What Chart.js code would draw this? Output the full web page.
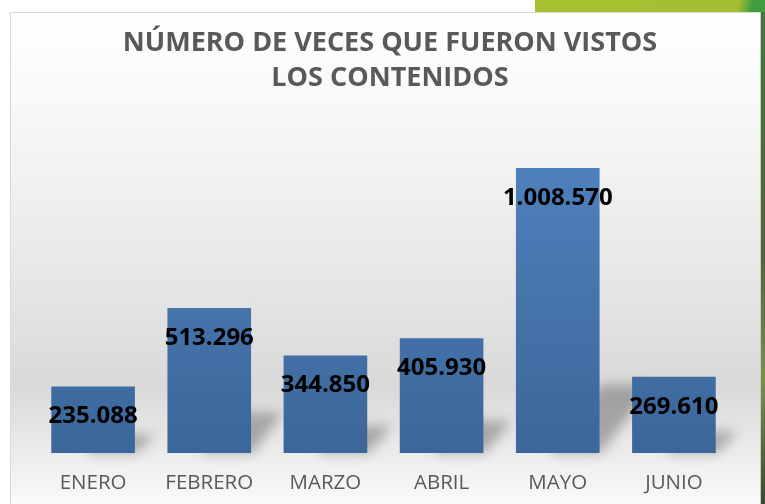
<!DOCTYPE html>
<html>
<head>
  <meta charset="UTF-8">
  <title>Número de veces que fueron vistos los contenidos</title>
  <script src="https://cdn.jsdelivr.net/npm/chart.js"></script>
  <style>
    body {
      margin: 0;
      width: 765px;
      height: 504px;
      overflow: hidden;
      background: #fff;
      position: relative;
      font-family: "Open Sans", Arial, sans-serif;
    }

    #green-top {
      position: absolute;
      left: 535px;
      top: 0;
      width: 230px;
      height: 12px;
      background: linear-gradient(100deg, #a6c12f 0%, #a3bf30 88%, #3f9d3f 94%);
    }

    #green-side {
      position: absolute;
      left: 761px;
      top: 12px;
      width: 4px;
      height: 492px;
      background: linear-gradient(180deg, #3f7a3a 0%, #56633a 50%, #7d8f4a 75%, #3b4a2e 100%);
    }

    #chart-box {
      position: absolute;
      left: 10px;
      top: 12px;
      width: 749px;
      height: 492px;
      border-left: 1px solid #d9d9d9;
      border-top: 1px solid #d9d9d9;
      border-right: 1px solid #c8c8c8;
      background: linear-gradient(180deg, #ffffff 0%, #f7f7f7 22%, #e6e6e6 55%, #d9d9d9 76%, #ececec 90%, #fafafa 100%);
    }

    canvas {
      display: block;
    }
  </style>
</head>
<body>
  <div id="green-top"></div>
  <div id="green-side"></div>
  <div id="chart-box">
    <canvas id="chart" width="749" height="491"></canvas>
  </div>

  <script>
    const meses = ["ENERO", "FEBRERO", "MARZO", "ABRIL", "MAYO", "JUNIO"];
    const visitas = [235088, 513296, 344850, 405930, 1008570, 269610];
    const titulo = ["NÚMERO DE VECES QUE FUERON VISTOS", "LOS CONTENIDOS"];

    // 1008570 -> "1.008.570"
    function conPuntos(n) {
      return String(n).replace(/\B(?=(\d{3})+(?!\d))/g, ".");
    }

    // title drawn by hand: in the original it sits a bit right of the plot centre
    const tituloPlugin = {
      id: "tituloPlugin",
      afterDraw(chart) {
        const ctx = chart.ctx;
        ctx.save();
        ctx.font = "bold 27px 'Open Sans'";
        ctx.fillStyle = "#595959";
        ctx.textAlign = "center";
        ctx.textBaseline = "middle";
        titulo.forEach((linea, i) => {
          ctx.fillText(linea, 379, 30 + i * 35);
        });
        ctx.restore();
      }
    };

    // blurred floor shadow behind each bar, like the Excel preset
    const sombraBarras = {
      id: "sombraBarras",
      beforeDatasetsDraw(chart) {
        const ctx = chart.ctx;
        const meta = chart.getDatasetMeta(0);
        ctx.save();
        ctx.filter = "blur(6px)";
        ctx.fillStyle = "rgba(0, 0, 0, 0.27)";
        meta.data.forEach(bar => {
          const w = bar.width;
          const right = bar.x + w / 2;
          const h = bar.base - bar.y;
          const alto = Math.min(h * 0.28, 68);
          const lado = Math.min(h * 0.15, 42) + 10;
          ctx.beginPath();
          ctx.moveTo(right - w * 0.6, bar.base);
          ctx.lineTo(right + 2, bar.base);
          ctx.lineTo(right + lado, bar.base - alto);
          ctx.lineTo(right - w * 0.6 + lado, bar.base - alto);
          ctx.closePath();
          ctx.fill();
        });
        ctx.restore();
      }
    };

    const etiquetas = {
      id: "etiquetas",
      afterDatasetsDraw(chart) {
        const ctx = chart.ctx;
        const meta = chart.getDatasetMeta(0);
        ctx.save();
        ctx.font = "bold 24px 'Open Sans'";
        ctx.fillStyle = "#000";
        ctx.textAlign = "center";
        ctx.textBaseline = "middle";
        meta.data.forEach((bar, i) => {
          ctx.fillText(conPuntos(visitas[i]), bar.x, bar.y + 30);
        });
        ctx.restore();
      }
    };

    function degradadoBarra(context) {
      const area = context.chart.chartArea;
      if (!area) return "#4a7ab5";
      const g = context.chart.ctx.createLinearGradient(0, area.top, 0, area.bottom);
      g.addColorStop(0, "#5285c2");
      g.addColorStop(1, "#3b6699");
      return g;
    }

    const ctx = document.getElementById("chart").getContext("2d");
    new Chart(ctx, {
      type: "bar",
      data: {
        labels: meses,
        datasets: [{
          data: visitas,
          backgroundColor: degradadoBarra,
          borderWidth: 0,
          categoryPercentage: 1,
          barPercentage: 0.72
        }]
      },
      options: {
        responsive: false,
        animation: false,
        layout: {
          padding: { left: 24, right: 28, top: 101, bottom: 0 }
        },
        plugins: {
          legend: { display: false },
          tooltip: { enabled: false },
          title: { display: false }
        },
        scales: {
          x: {
            grid: { display: false, drawTicks: false },
            border: { display: false },
            ticks: {
              color: "#595959",
              font: { family: "'Open Sans'", size: 20.5 },
              padding: 18
            },
            afterFit: s => { s.height = 51; }
          },
          y: {
            display: false,
            min: 0,
            max: 1200000
          }
        }
      },
      plugins: [sombraBarras, etiquetas, tituloPlugin]
    });
  </script>
</body>
</html>
